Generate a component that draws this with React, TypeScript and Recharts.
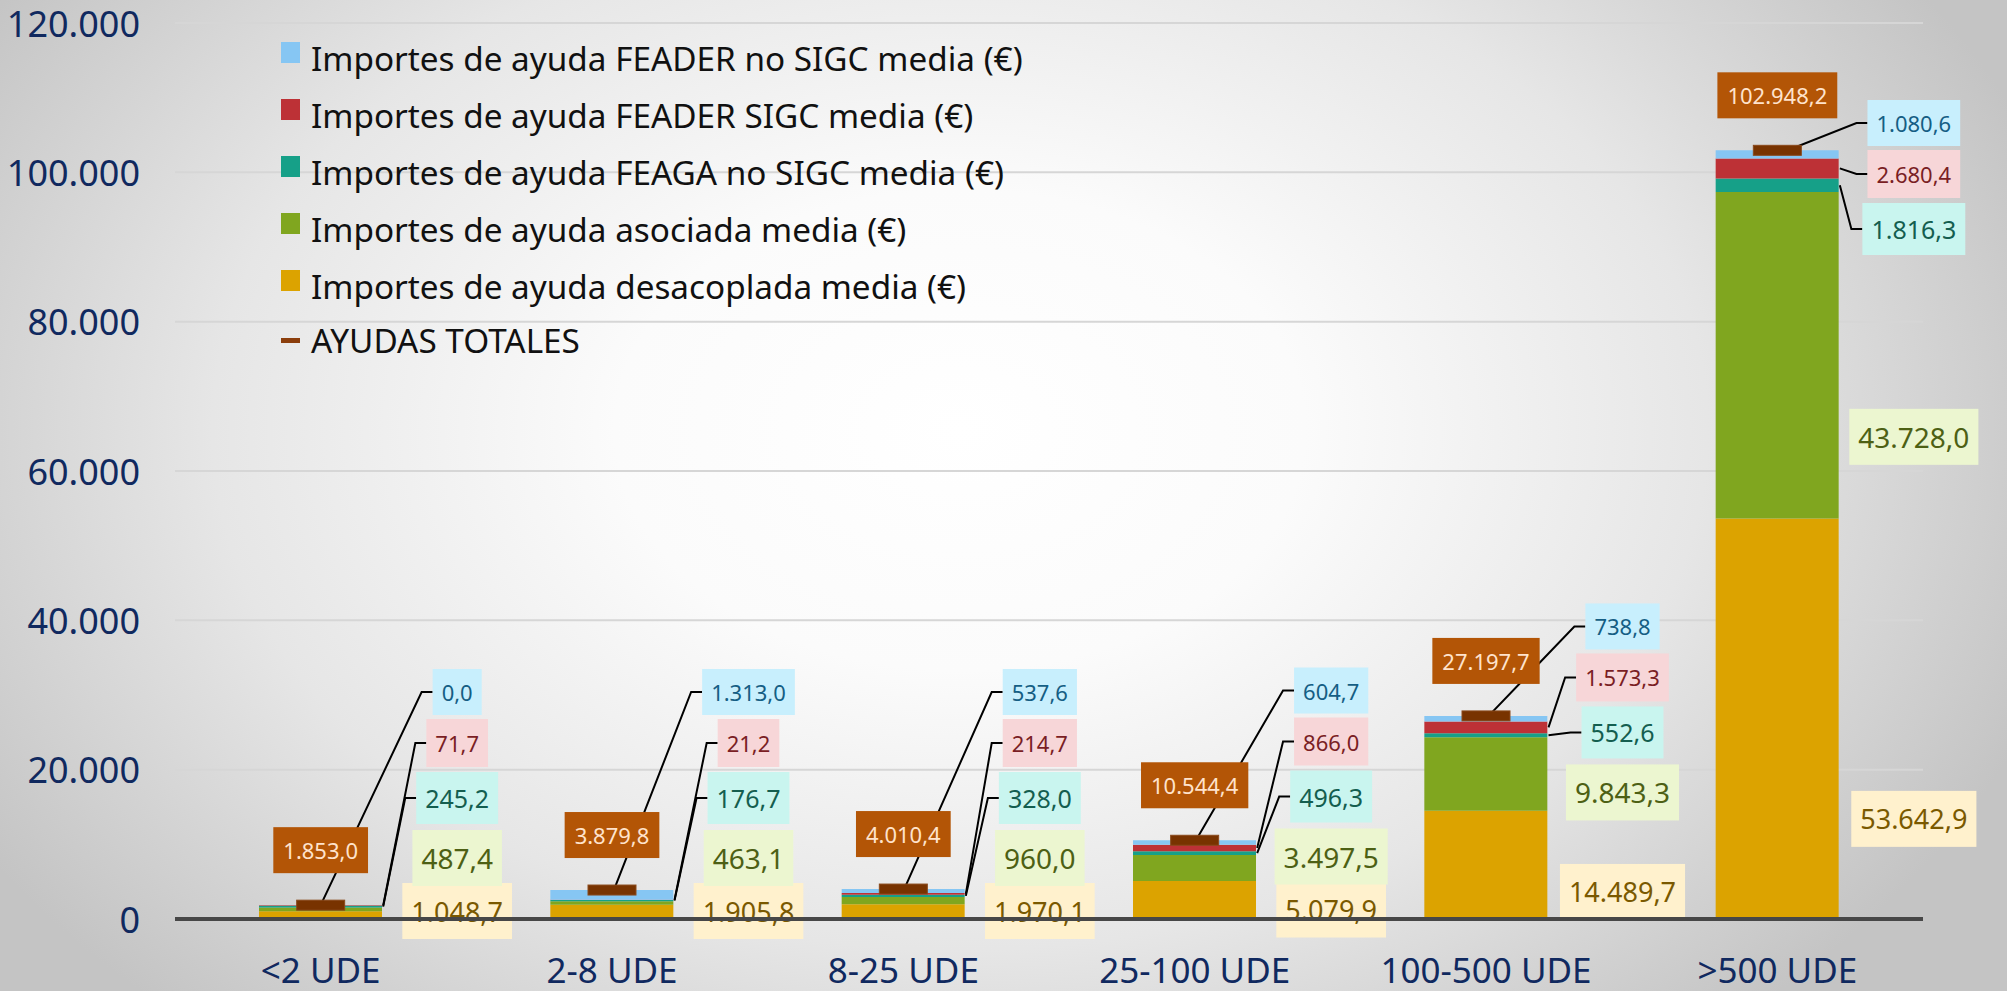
import React from "react";
import {
  ComposedChart,
  Bar,
  Line,
  XAxis,
  YAxis,
  CartesianGrid,
  Legend,
  ReferenceArea,
} from "recharts";

// valores medios por tramo de UDE (€)
const categories = ["<2 UDE", "2-8 UDE", "8-25 UDE", "25-100 UDE", "100-500 UDE", ">500 UDE"];
const desacoplada = [1048.7, 1905.8, 1970.1, 5079.9, 14489.7, 53642.9];
const asociada = [487.4, 463.1, 960.0, 3497.5, 9843.3, 43728.0];
const feagaNoSigc = [245.2, 176.7, 328.0, 496.3, 552.6, 1816.3];
const feaderSigc = [71.7, 21.2, 214.7, 866.0, 1573.3, 2680.4];
const feaderNoSigc = [0.0, 1313.0, 537.6, 604.7, 738.8, 1080.6];
const totales = [1853.0, 3879.8, 4010.4, 10544.4, 27197.7, 102948.2];
const yTicks = [0, 20000, 40000, 60000, 80000, 100000, 120000];

const Y_MAX = 120000;
const BAR_SIZE = 123;
const FONT = '"Noto Sans", sans-serif';

// bottom -> top of the stack
const SERIES = [
  { key: "desacoplada", name: "Importes de ayuda desacoplada media (€)", color: "#DCA300", box: "#FFF1CD", text: "#7A5900", size: 27, h: 56, leader: "none" },
  { key: "asociada", name: "Importes de ayuda asociada media (€)", color: "#80A61F", box: "#ECF6D0", text: "#4D6014", size: 28, h: 56, leader: "none" },
  { key: "feagaNoSigc", name: "Importes de ayuda FEAGA no SIGC media (€)", color: "#16A088", box: "#C9F5EF", text: "#145E4F", size: 25, h: 52, leader: "edge" },
  { key: "feaderSigc", name: "Importes de ayuda FEADER SIGC media (€)", color: "#BD3136", box: "#F7D6D8", text: "#7A1E24", size: 22, h: 48, leader: "edge" },
  { key: "feaderNoSigc", name: "Importes de ayuda FEADER no SIGC media (€)", color: "#86C6F3", box: "#C8EFFD", text: "#155E84", size: 22, h: 46, leader: "center" },
];
const SERIES_VALUES = [desacoplada, asociada, feagaNoSigc, feaderSigc, feaderNoSigc];
const LABEL_GAPS = [53, 60, 55, 51];

const rows = categories.map((cat, i) => ({
  cat,
  desacoplada: desacoplada[i],
  asociada: asociada[i],
  feagaNoSigc: feagaNoSigc[i],
  feaderSigc: feaderSigc[i],
  feaderNoSigc: feaderNoSigc[i],
  total: totales[i],
}));

// 1.234,5 style
function fmt(v: number, dec: number) {
  const [int, frac] = v.toFixed(dec).split(".");
  const grouped = int.replace(/\B(?=(\d{3})+(?!\d))/g, ".");
  return frac ? `${grouped},${frac}` : grouped;
}

let ctx: CanvasRenderingContext2D | null = null;
function measure(text: string, size: number) {
  if (!ctx && typeof document !== "undefined") ctx = document.createElement("canvas").getContext("2d");
  if (!ctx) return text.length * size * 0.56;
  ctx.font = `${size}px "Noto Sans"`;
  return ctx.measureText(text).width;
}

function Box({ cx, cy, w, h, fill, color, size, label }: any) {
  return (
    <g>
      <rect x={cx - w / 2} y={cy - h / 2} width={w} height={h} fill={fill} />
      <text x={cx} y={cy} textAnchor="middle" dominantBaseline="central" fontSize={size} fill={color} fontFamily={FONT}>
        {label}
      </text>
    </g>
  );
}

const makeLabels = (i: number) => (props: any) => {
  const { x, y, width, height } = props;
  if (x == null || y == null) return <g />;
  const zeroY = y + height;
  const vy = (v: number) => zeroY - (v / Y_MAX) * height;
  const cx = x + width / 2;
  const barRight = cx + BAR_SIZE / 2;

  const vals = SERIES_VALUES.map((arr) => arr[i]);
  const bases: number[] = [];
  vals.reduce((acc, v, j) => ((bases[j] = acc), acc + v), 0);

  // stack labels beside the bar, pushing upwards when they collide
  const pos: number[] = [];
  vals.forEach((v, j) => {
    const want = vy(bases[j] + v * 0.25);
    pos[j] = j === 0 ? Math.min(want, zeroY - 8) : Math.min(want, pos[j - 1] - LABEL_GAPS[j - 1]);
  });
  const minTop = y + 100;
  if (pos[4] < minTop) {
    pos[4] = minTop;
    for (let j = 3; j >= 0; j--) pos[j] = Math.max(pos[j], pos[j + 1] + LABEL_GAPS[j]);
  }

  const lx = barRight + 75;
  const boxes = SERIES.map((s, j) => {
    const label = fmt(vals[j], 1);
    const w = measure(label, s.size) + 18;
    return { s, label, w, cy: pos[j] };
  });

  const leaders = boxes.map((b, j) => {
    if (b.s.leader === "none") return null;
    const left = lx - b.w / 2;
    const ty = vy(bases[j] + vals[j] / 2);
    const tx = b.s.leader === "center" ? cx : barRight + 1;
    return (
      <polyline
        key={`l${j}`}
        points={`${left},${b.cy} ${left - 11},${b.cy} ${tx},${ty}`}
        fill="none"
        stroke="#000"
        strokeWidth={2}
      />
    );
  });

  const totalLabel = fmt(totales[i], 1);
  const tw = measure(totalLabel, 22) + 20;

  return (
    <g>
      {leaders}
      <Box cx={cx} cy={vy(totales[i]) - 55} w={tw} h={46} fill="#B35506" color="#FFE3CC" size={22} label={totalLabel} />
      {boxes.map((b, j) => (
        <Box key={j} cx={lx} cy={b.cy} w={b.w} h={b.s.h} fill={b.s.box} color={b.s.text} size={b.s.size} label={b.label} />
      ))}
    </g>
  );
};

const XTick = ({ x, y, payload }: any) => (
  <text x={x} y={y + 50} textAnchor="middle" dominantBaseline="central" fontSize={35} fill="#10295F" fontFamily={FONT}>
    {payload.value}
  </text>
);

const YTick = ({ x, y, payload }: any) => (
  <text x={x - 35} y={y} textAnchor="end" dominantBaseline="central" fontSize={36} fill="#10295F" fontFamily={FONT}>
    {fmt(payload.value, 0)}
  </text>
);

const TotalDot = (p: any) => (
  <rect key={`d${p.index}`} x={p.cx - 24} y={p.cy - 5} width={48} height={10} fill="#783300" stroke="#8a4a1c" strokeWidth={1} />
);

const renderLegend = () => {
  const items = [...SERIES].reverse();
  return (
    <div style={{ fontFamily: FONT, fontSize: 33.3, color: "#111", lineHeight: 1 }}>
      {items.map((s) => (
        <div key={s.key} style={{ display: "flex", alignItems: "center", height: 57 }}>
          <div style={{ width: 19, height: 21, background: s.color, marginRight: 11, transform: "translateY(-6px)" }} />
          <span>{s.name}</span>
        </div>
      ))}
      <div style={{ display: "flex", alignItems: "center", height: 51 }}>
        <div style={{ width: 19, height: 5, background: "#8B3E0C", marginRight: 11 }} />
        <span>AYUDAS TOTALES</span>
      </div>
    </div>
  );
};

export default function App() {
  return (
    <div
      style={{
        width: 2007,
        height: 991,
        position: "relative",
        overflow: "hidden",
        background:
          "radial-gradient(ellipse 1150px 800px at 960px 430px, #ffffff 0%, #fbfbfb 30%, #e6e6e6 65%, #c4c4c4 100%)",
      }}
    >
      <style>{"body{margin:0}"}</style>
      <ComposedChart width={2007} height={991} data={rows} margin={{ top: 23, right: 84, bottom: 12, left: 0 }}>
        <CartesianGrid vertical={false} stroke="#d6d6d6" strokeWidth={2} />
        <XAxis
          dataKey="cat"
          height={60}
          tickSize={0}
          tickMargin={0}
          tickLine={false}
          axisLine={{ stroke: "#474747", strokeWidth: 4 }}
          tick={<XTick />}
          interval={0}
        />
        <YAxis
          width={175}
          domain={[0, Y_MAX]}
          ticks={yTicks}
          tickSize={0}
          tickMargin={0}
          tickLine={false}
          axisLine={false}
          tick={<YTick />}
        />
        <Legend
          layout="vertical"
          align="center"
          verticalAlign="middle"
          wrapperStyle={{ left: 281, top: 30, width: 900, height: 340 }}
          content={renderLegend}
        />
        {SERIES.map((s) => (
          <Bar key={s.key} dataKey={s.key} name={s.name} stackId="s" fill={s.color} barSize={BAR_SIZE} isAnimationActive={false} />
        ))}
        <Line dataKey="total" name="AYUDAS TOTALES" stroke="none" dot={TotalDot} activeDot={false} isAnimationActive={false} />
        {categories.map((c, i) => (
          <ReferenceArea
            key={c}
            x1={c}
            x2={c}
            y1={0}
            y2={Y_MAX}
            ifOverflow="visible"
            fill="none"
            stroke="none"
            shape={makeLabels(i)}
          />
        ))}
      </ComposedChart>
    </div>
  );
}
